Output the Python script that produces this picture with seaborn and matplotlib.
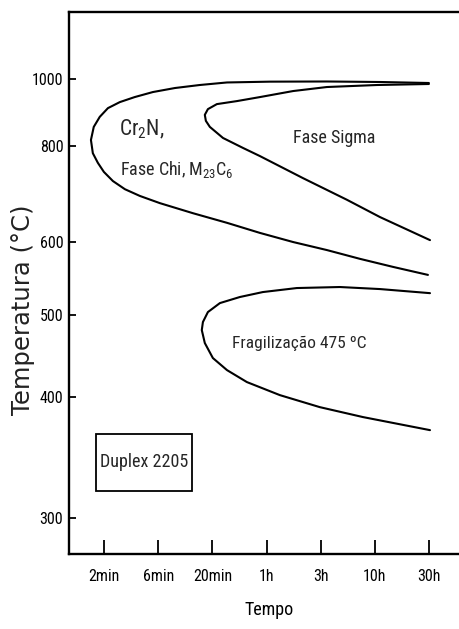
import numpy as np
import pandas as pd
import matplotlib
matplotlib.use("Agg")
import matplotlib.pyplot as plt
from matplotlib import font_manager
from matplotlib.patches import Rectangle
import seaborn as sns

# ---------------- data ----------------
tick_times = [2, 6, 20, 60, 180, 600, 1800]          # minutes
tick_labels = ["2min", "6min", "20min", "1h", "3h", "10h", "30h"]
y_ticks = [300, 400, 500, 600, 800, 1000]
# printed positions of the temperature ticks along the axis (non-uniform scale)
y_tick_pos = [518, 397, 315, 242, 146, 79]

# Cr2N / Chi / M23C6 C-curve
c1_t = [1800, 667, 207, 64.3, 26.9, 15.1, 8.69, 5.38, 3.72, 2.75, 2.16, 1.83, 1.62, 1.53,
        1.59, 1.76, 1.99, 2.39, 3.05, 4.13, 6.22, 13.0, 26.9, 52.5, 103, 207, 431, 867, 1766]
c1_T = [988, 991, 992.5, 992, 989.6, 982, 973, 961, 946, 931, 913, 887, 857, 818,
        785, 765, 746, 727, 710, 696, 681, 660, 640, 619, 600, 589, 577, 566, 555]
# Sigma C-curve
c2_t = [1800, 628, 207, 103, 52.5, 32.9, 21.9, 18.1, 16.9, 17.3, 18.9, 24.8, 37.2, 52.5,
        126, 323, 667, 1841]
c2_T = [985, 982, 976, 964, 946, 934, 925, 910, 893, 875, 857, 824, 796, 779,
        733, 688, 652, 604]
# 475 C embrittlement C-curve
c3_t = [1841, 667, 276, 111, 55.7, 34.9, 23.3, 18.1, 16.2, 15.8, 16.9, 20.2, 26.9, 40.3,
        78.7, 177, 461, 1841]
c3_T = [530, 535.6, 538.4, 537, 531.5, 524.7, 516.4, 504.1, 491.5, 481.7, 465.9, 447.6,
        432.9, 418.3, 402.4, 391.7, 383.5, 372.7]

df = pd.concat([
    pd.DataFrame({"tempo": c1_t, "temp": c1_T, "curva": "Cr2N"}),
    pd.DataFrame({"tempo": c2_t, "temp": c2_T, "curva": "Sigma"}),
    pd.DataFrame({"tempo": c3_t, "temp": c3_T, "curva": "475"}),
], ignore_index=True)

# ---------------- fonts ----------------
sns.set_style("white")
names = {f.name for f in font_manager.fontManager.ttflist}
narrow = "Liberation Sans"
for cand in ["Liberation Sans Narrow", "Roboto Condensed", "Open Sans Condensed", "Liberation Sans"]:
    if cand in names:
        narrow = cand
        break
plt.rcParams["font.family"] = [narrow, "DejaVu Sans"]
plt.rcParams["mathtext.fontset"] = "custom"
plt.rcParams["mathtext.rm"] = narrow
plt.rcParams["mathtext.it"] = narrow
plt.rcParams["mathtext.default"] = "regular"

# ---------------- scales ----------------
L = np.log10(tick_times)
Lext = np.concatenate([[L[0] - (L[1] - L[0])], L, [L[-1] + 2 * (L[-1] - L[-2])]])
Uext = np.concatenate([[-1.0], np.arange(len(L), dtype=float), [len(L) + 1.0]])

def fx(t):
    t = np.asarray(t, dtype=float)
    return np.interp(np.log10(np.clip(t, 1e-6, None)), Lext, Uext)

def fxi(u):
    return 10 ** np.interp(np.asarray(u, dtype=float), Uext, Lext)

yT = np.array(y_ticks, dtype=float)                 # ascending temperatures
yP = -np.array(y_tick_pos, dtype=float)             # ascending positions
Text = np.concatenate([[200.0], yT, [1400.0]])
Pext = np.concatenate([[yP[0] - (yP[1] - yP[0])], yP, [yP[-1] + 2 * (yP[-1] - yP[-2])]])

def fy(T):
    return np.interp(np.asarray(T, dtype=float), Text, Pext)

def fyi(p):
    return np.interp(np.asarray(p, dtype=float), Pext, Text)

# ---------------- figure ----------------
fig = plt.figure(figsize=(4.59, 6.29), dpi=100)
fig.patch.set_facecolor("white")
ax = fig.add_axes([0.150, 0.119, 0.874, 0.862])

sns.lineplot(data=df, x="tempo", y="temp", units="curva", estimator=None, sort=False,
             color="black", linewidth=1.5, ax=ax, legend=False)

ax.set_xscale("function", functions=(fx, fxi))
ax.set_yscale("function", functions=(fy, fyi))
ax.set_xlim(fxi(-0.652), fxi(6.76))
ax.set_ylim(fyi(-554), fyi(-12))

ax.set_xticks(tick_times)
ax.set_xticklabels(tick_labels)
ax.set_yticks(y_ticks)
ax.set_yticklabels([str(v) for v in y_ticks])
ax.minorticks_off()
ax.tick_params(axis="x", direction="in", length=10, width=1.3, pad=11,
               labelsize=11.5, colors="black", bottom=True)
ax.tick_params(axis="y", direction="in", length=5, width=1.3, pad=4,
               labelsize=11.5, colors="black", left=True)

for side in ["left", "top", "bottom"]:
    ax.spines[side].set_visible(True)
    ax.spines[side].set_linewidth(1.7)
    ax.spines[side].set_color("black")
ax.spines["right"].set_visible(False)
ax.grid(False)

ax.set_xlabel("Tempo", fontsize=13, labelpad=12, color="black")
ax.set_ylabel("Temperatura (°C)", fontsize=17.5, color="#222222",
              family=["DejaVu Sans"])
ax.yaxis.set_label_coords(-0.085, 0.45)

# annotations
ax.text(0.1247, 0.773, "Cr$_2$N,", transform=ax.transAxes, fontsize=15.5,
        ha="left", va="baseline")
ax.text(0.127, 0.699, "Fase Chi, M$_{23}$C$_6$", transform=ax.transAxes, fontsize=13,
        ha="left", va="baseline")
ax.text(0.5586, 0.758, "Fase Sigma", transform=ax.transAxes, fontsize=13,
        ha="left", va="baseline")
ax.text(0.4065, 0.380, "Fragilização 475 ºC", transform=ax.transAxes, fontsize=12.5,
        ha="left", va="baseline")
ax.add_patch(Rectangle((0.0673, 0.1162), 0.2394, 0.1052, transform=ax.transAxes,
                       fill=False, edgecolor="black", linewidth=1.3))
ax.text(0.187, 0.170, "Duplex 2205", transform=ax.transAxes, fontsize=13,
        ha="center", va="center")

fig.savefig("out.png", dpi=100, facecolor="white")
